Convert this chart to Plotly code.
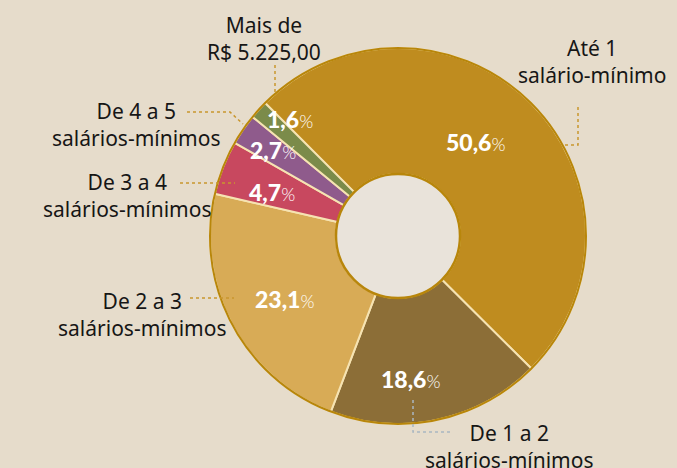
import math
import plotly.graph_objects as go

# ---------------- data ----------------
categories = ["Até 1 salário-mínimo", "De 1 a 2 salários-mínimos", "De 2 a 3 salários-mínimos",
              "De 3 a 4 salários-mínimos", "De 4 a 5 salários-mínimos", "Mais de R$ 5.225,00"]
values = [50.6, 18.6, 23.1, 4.7, 2.7, 1.6]
value_labels = ["50,6", "18,6", "23,1", "4,7", "2,7", "1,6"]
label_texts = ["Até 1<br>salário-mínimo", "De 1 a 2<br>salários-mínimos", "De 2 a 3<br>salários-mínimos",
               "De 3 a 4<br>salários-mínimos", "De 4 a 5<br>salários-mínimos", "Mais de<br>R$ 5.225,00"]

# ---------------- style ----------------
colors = ["#BF8C1F", "#8C6E37", "#D8AB56", "#C8485F", "#8F5B8C", "#7B8B4A"]
BG = "#E6DCCB"
HOLE_BG = "#E9E3DA"
RIM = "#B8860B"
SEP = "#F6E3B2"
W, H = 677, 468
CX, CY, R, R_HOLE = 398, 236, 188, 62
ROTATION = 315
# label placement (radius in px, angular nudge in degrees) per slice
pct_radius = [122, 144, 129, 134, 152, 159]
pct_nudge = [-5, 7, -1, -2, 0, 5]
# outside label centres (px)
label_pos = [(592, 62), (510, 446), (142, 314), (127, 195), (136, 125), (264, 38)]
# leader lines (px polylines) and colours
leaders = [
    ([(578, 107), (578, 145), (565, 145)], "#C9962E"),
    ([(413, 400), (413, 432), (453, 432)], "#A9B6C2"),
    ([(190, 298), (234, 298)], "#C9962E"),
    ([(180, 183), (235, 183)], "#C9962E"),
    ([(187, 112), (230, 112), (243, 124)], "#C9962E"),
    ([(275, 65), (275, 96)], "#C9962E"),
]


def px(x):
    return x / W


def py(y):
    return 1 - y / H


fig = go.Figure()
fig.add_trace(go.Pie(
    labels=categories,
    values=values,
    sort=False,
    direction="clockwise",
    rotation=ROTATION,
    hole=R_HOLE / R,
    marker=dict(colors=colors, line=dict(color=SEP, width=2)),
    textinfo="none",
    hoverinfo="label+value",
    showlegend=False,
    domain=dict(x=[px(CX - R), px(CX + R)], y=[py(CY + R), py(CY - R)]),
))

shapes = []
# outer rim and hole
shapes.append(dict(type="circle", xref="paper", yref="paper", xsizemode="pixel", ysizemode="pixel",
                   xanchor=px(CX), yanchor=py(CY), x0=-R, x1=R, y0=-R, y1=R,
                   line=dict(color=RIM, width=2), fillcolor="rgba(0,0,0,0)", layer="above"))
shapes.append(dict(type="circle", xref="paper", yref="paper", xsizemode="pixel", ysizemode="pixel",
                   xanchor=px(CX), yanchor=py(CY), x0=-R_HOLE, x1=R_HOLE, y0=-R_HOLE, y1=R_HOLE,
                   line=dict(color=RIM, width=2.5), fillcolor=HOLE_BG, layer="above"))
for pts, col in leaders:
    path = "M " + " L ".join(f"{px(x)},{py(y)}" for x, y in pts)
    shapes.append(dict(type="path", xref="paper", yref="paper", path=path,
                       line=dict(color=col, width=1.5, dash="dot"), layer="above"))

annotations = []
total = sum(values)
cum = 0.0
for i, v in enumerate(values):
    mid = ROTATION + (cum + v / 2) / total * 360 + pct_nudge[i]
    cum += v
    a = math.radians(mid)
    x = CX + pct_radius[i] * math.sin(a)
    y = CY - pct_radius[i] * math.cos(a)
    annotations.append(dict(
        x=px(x), y=py(y), xref="paper", yref="paper", showarrow=False,
        xanchor="center", yanchor="middle",
        text=(f"<span style='font-weight:900'>{value_labels[i]}</span>"
              f"<span style='font-weight:300;font-size:18px'>%</span>"),
        font=dict(family="Lato", size=23, color="white"),
    ))

for (lx, ly), t in zip(label_pos, label_texts):
    annotations.append(dict(
        x=px(lx), y=py(ly), xref="paper", yref="paper", showarrow=False,
        xanchor="center", yanchor="middle", align="center",
        text=t, font=dict(family="Noto Sans", size=21, color="#161616"),
    ))

fig.update_layout(
    width=W, height=H,
    margin=dict(l=0, r=0, t=0, b=0),
    paper_bgcolor=BG, plot_bgcolor=BG,
    shapes=shapes, annotations=annotations,
)
fig.write_html(
    "out.html",
    config={"displayModeBar": False},
    post_script="document.body.style.margin='0';document.body.style.overflow='hidden';",
)
